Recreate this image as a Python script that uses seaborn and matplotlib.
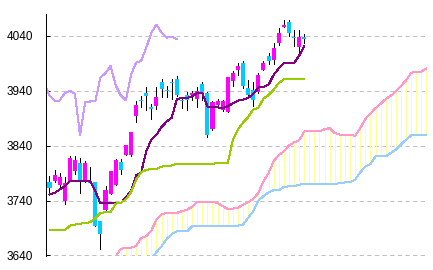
import numpy as np
import pandas as pd
import matplotlib
matplotlib.use("Agg")
import matplotlib.pyplot as plt
import seaborn as sns

# ---- candle data (one value per session) ----
open_ = [3773.3, 3775.2, 3767.9, 3738.8, 3775.2, 3793.3, 3809.1, 3775.2, 3775.2, 3773.3,
         3702.4, 3722.4, 3752.7, 3767.9, 3810.3, 3823.6, 3823.6, 3893.3, 3922.4, 3935.8,
         3909.7, 3911.5, 3955.8, 3941.8, 3955.2, 3961.8, 3923.6, 3932.7, 3931.5, 3925.5,
         3952.7, 3935.8, 3870.9, 3914.5, 3905.5, 3900.6, 3957.0, 3978.2, 3991.5, 3944.8,
         3941.8, 3937.6, 3978.2, 4004.2, 3996.4, 4026.7, 4057.0, 4066.1, 4038.8, 4020.6,
         4038.8]
close = [3762.4, 3787.3, 3782.4, 3771.5, 3818.2, 3814.5, 3775.2, 3807.9, 3771.5, 3694.5,
         3678.2, 3760.0, 3793.3, 3814.5, 3795.2, 3840.6, 3864.2, 3914.5, 3920.6, 3929.7,
         3906.7, 3928.5, 3943.6, 3940.0, 3953.9, 3931.5, 3921.8, 3922.4, 3935.8, 3940.0,
         3934.5, 3858.8, 3919.4, 3920.6, 3920.6, 3964.8, 3972.1, 3985.5, 3949.7, 3931.5,
         3922.4, 3969.1, 3991.5, 3994.5, 4018.8, 4046.1, 4060.6, 4046.1, 4037.0, 4038.8,
         4033.9]
high = [3784.2, 3796.4, 3790.3, 3782.4, 3820.6, 3820.6, 3818.2, 3812.7, 3800.6, 3773.3,
        3702.4, 3766.0, 3793.3, 3815.8, 3816.4, 3840.6, 3864.2, 3920.6, 3929.7, 3946.7,
        3916.4, 3946.7, 3961.8, 3947.9, 3961.2, 3967.3, 3928.5, 3937.6, 3938.8, 3946.7,
        3955.8, 3937.6, 3920.6, 3925.5, 3923.6, 3964.8, 3977.0, 3990.3, 3994.5, 3960.0,
        3955.8, 3972.1, 3995.2, 4008.5, 4027.9, 4053.9, 4069.1, 4069.1, 4050.9, 4050.9,
        4043.6]
low = [3755.2, 3773.3, 3761.2, 3734.5, 3775.2, 3789.1, 3753.9, 3773.3, 3771.5, 3694.5,
       3652.1, 3722.4, 3752.1, 3767.9, 3789.1, 3823.6, 3821.8, 3882.4, 3909.7, 3904.2,
       3888.5, 3907.3, 3928.5, 3928.5, 3925.5, 3929.7, 3908.5, 3904.2, 3922.4, 3910.3,
       3922.4, 3855.2, 3869.1, 3908.5, 3902.4, 3900.6, 3949.7, 3969.1, 3944.8, 3929.7,
       3911.5, 3935.8, 3978.2, 3988.5, 3989.1, 4023.6, 4057.0, 4040.6, 4022.4, 4005.5,
       4026.7]

# ---- indicator lines ----
tenkan = [3751, 3754, 3760, 3766, 3775, 3775, 3775, 3775, 3775, 3757,
          3735, 3735, 3735, 3735, 3735, 3746, 3758, 3786, 3791, 3830,
          3851, 3860, 3874, 3884, 3891, 3925, 3927, 3927, 3930, 3936,
          3936, 3911.5, 3910, 3910, 3908, 3912, 3917, 3922, 3924, 3927,
          3934, 3946, 3947, 3951, 3969, 3981, 3990, 3990, 3990, 4004,
          4021]
kijun = [3685.5, 3685.5, 3685.5, 3685.5, 3694.5, 3696, 3698, 3699, 3700.6, 3708,
         3717, 3719, 3719, 3734.5, 3736, 3742, 3755, 3778, 3791.5, 3796,
         3797.6, 3797.6, 3802, 3803, 3804, 3807, 3807, 3807, 3807, 3807,
         3807, 3807, 3807, 3808.5, 3808.5, 3808.5, 3851, 3870, 3882, 3892,
         3906, 3909, 3926, 3932, 3942, 3954, 3961, 3961, 3961, 3961,
         3961]
chikou_shift = 25

span_a_start = 13
span_a = [3638, 3652, 3654, 3654, 3657, 3672, 3675, 3685.5, 3705, 3714.5,
          3717.6, 3717.6, 3717.6, 3720.6, 3723.6, 3728.5, 3737.6, 3737.6, 3737.6, 3737.6,
          3735.8, 3729.7, 3724.8, 3725.4, 3726.7, 3732.7, 3737, 3743, 3754, 3775,
          3790, 3812, 3823, 3829.7, 3840.6, 3846, 3849.7, 3866, 3866, 3866,
          3866, 3870, 3872, 3863, 3860, 3860, 3860, 3858, 3872, 3888.5,
          3899, 3908.5, 3916.4, 3925, 3931, 3939, 3949, 3959, 3973, 3975,
          3975, 3981]
span_b_start = 20
span_b = [3634, 3646, 3657, 3670, 3679, 3684, 3684, 3684, 3693, 3694.5,
          3694.5, 3694.5, 3694.5, 3694.5, 3694.5, 3694.5, 3694.5, 3694.5, 3696, 3708.5,
          3720.6, 3740, 3748, 3755, 3758.8, 3758.8, 3765, 3766, 3766, 3769,
          3770, 3770, 3770, 3770, 3770, 3770, 3770, 3772, 3773, 3773,
          3778, 3791.5, 3802, 3806.7, 3820.6, 3820.6, 3820.6, 3826.7, 3832.7, 3842,
          3851, 3858.8, 3858.8, 3858.8, 3858.8]

yticks = [3640, 3740, 3840, 3940, 4040]
ytick_labels = ["3640", "3740", "3840", "3940", "4040"]

# ---- styling ----
UP = "#ff00ff"
DOWN = "#00ccff"
C_TENKAN = "#800080"
C_KIJUN = "#99cc00"
C_CHIKOU = "#cc99ff"
C_SPAN_A = "#ff99cc"
C_SPAN_B = "#99ccff"
C_CLOUD = "#ffff99"
PX = 0.72  # one pixel in points at 100 dpi

sns.set_style("white")
plt.rcParams["font.family"] = ["Liberation Sans", "DejaVu Sans"]
plt.rcParams["lines.scale_dashes"] = False

W, H = 433, 270
fig = plt.figure(figsize=(W / 100, H / 100), dpi=100)
left, right, top, bottom = 45.5, 428.0, 14.0, 256.0
ax = fig.add_axes([left / W, (H - bottom) / H, (right - left) / W, (bottom - top) / H])

n = len(close)
x = np.arange(n)
candles = pd.DataFrame({"x": x, "open": open_, "close": close, "high": high, "low": low})

# cloud: vertical yellow hatching between the spans
pa = pd.DataFrame({"x": np.arange(span_a_start, span_a_start + len(span_a)), "a": span_a})
pb = pd.DataFrame({"x": np.arange(span_b_start, span_b_start + len(span_b)), "b": span_b})
cloud = pa.merge(pb, on="x", how="left").fillna({"b": 3600})
ax.vlines(cloud["x"], np.minimum(cloud["a"], cloud["b"]), np.maximum(cloud["a"], cloud["b"]),
          color=C_CLOUD, linewidth=PX, antialiased=False, zorder=1)

sns.lineplot(data=pb, x="x", y="b", color=C_SPAN_B, ax=ax, zorder=2)
sns.lineplot(data=pa, x="x", y="a", color=C_SPAN_A, ax=ax, zorder=2)

# lagging span: closes shifted back
chikou = pd.DataFrame({"x": x - chikou_shift, "c": close})
chikou = chikou[chikou["x"] >= -1]
sns.lineplot(data=chikou, x="x", y="c", color=C_CHIKOU, ax=ax, zorder=2)

# candles
ax.vlines(candles["x"], candles["low"], candles["high"], color="black", linewidth=PX,
          antialiased=False, zorder=3)
up = candles["close"] >= candles["open"]
body_bottom = np.minimum(candles["open"], candles["close"])
body_h = np.maximum(np.abs(candles["close"] - candles["open"]), 1.8)
ax.bar(candles["x"], body_h, bottom=body_bottom, width=0.8,
       color=np.where(up, UP, DOWN), linewidth=0, antialiased=False, zorder=4)

lines = pd.DataFrame({"x": x, "tenkan": tenkan, "kijun": kijun})
sns.lineplot(data=lines, x="x", y="tenkan", color=C_TENKAN, ax=ax, zorder=5)
sns.lineplot(data=lines, x="x", y="kijun", color=C_KIJUN, ax=ax, zorder=5)

for ln in ax.lines:
    ln.set_linewidth(PX)
    ln.set_antialiased(False)

# axes
ax.set_xlim(-0.78, 74.3)
ax.set_ylim(3639, 4080)
ax.set_yticks(yticks)
ax.set_yticklabels(ytick_labels)
ax.set_xticks([])
ax.set_xlabel("")
ax.set_ylabel("")
ax.grid(axis="y", color="#c0c0c0", linewidth=PX, linestyle=(0, (3, 2.5)))
ax.set_axisbelow(True)
for s in ["top", "right", "bottom"]:
    ax.spines[s].set_visible(False)
ax.spines["left"].set_color("black")
ax.spines["left"].set_linewidth(PX)
ax.tick_params(axis="y", direction="in", length=3, width=PX, color="black",
               pad=9, labelsize=8.5, labelcolor="black", left=True)

fig.savefig("out.png", dpi=100)
